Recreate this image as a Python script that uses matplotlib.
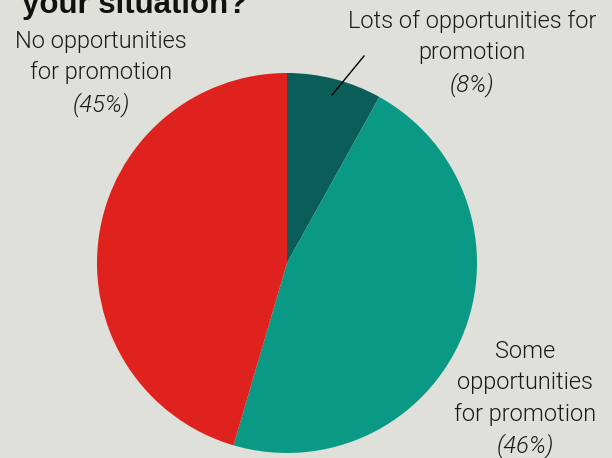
import matplotlib.pyplot as plt
from matplotlib import font_manager

# promotion outlook shares, clockwise from the top
labels = ["Lots of opportunities for\npromotion", "Some\nopportunities\nfor promotion", "No opportunities\nfor promotion"]
shares = [8, 46, 45]
pct_labels = ["(8%)", "(46%)", "(45%)"]
colors = ["#0b5d59", "#0a9985", "#e0221e"]

W, H = 612, 458
BG = "#e0e0da"
TXT = "#1a1a1a"

names = {f.name for f in font_manager.fontManager.ttflist}
label_font = "Roboto" if "Roboto" in names else "DejaVu Sans"

fig = plt.figure(figsize=(W / 100, H / 100), dpi=100, facecolor=BG)
ax = fig.add_axes([0, 0, 1, 1])
ax.set_xlim(0, W)
ax.set_ylim(0, H)
ax.set_aspect("equal")
ax.axis("off")

# pie: center at pixel (287, 263), radius 190
cx, cy, r = 287, H - 263, 190
ax.pie(shares, colors=colors, startangle=90, counterclock=False,
       center=(cx, cy), radius=r, wedgeprops=dict(linewidth=0))
ax.set_xlim(0, W)
ax.set_ylim(0, H)

# title, cropped at the top edge
ax.text(22, H - 13, "your situation?", fontsize=22.5, fontweight="bold",
        family="Liberation Sans", color="#111111", ha="left", va="baseline")

def label(x, y_top, name, pct):
    lines = name.split("\n")
    step = 31.5
    for i, ln in enumerate(lines):
        ax.text(x, H - (y_top + i * step), ln, fontsize=17, family=label_font,
                fontweight=300, color=TXT, ha="center", va="baseline")
    ax.text(x, H - (y_top + len(lines) * step), pct, fontsize=17, family=label_font,
            fontweight=300, style="italic", color=TXT, ha="center", va="baseline")

label(472, 28, labels[0], pct_labels[0])
label(525, 358, labels[1], pct_labels[1])
label(101, 48, labels[2], pct_labels[2])

# leader line for the small slice
ax.plot([332, 364], [H - 95, H - 56], color="black", lw=1)

fig.savefig("out.png", dpi=100, facecolor=BG)
